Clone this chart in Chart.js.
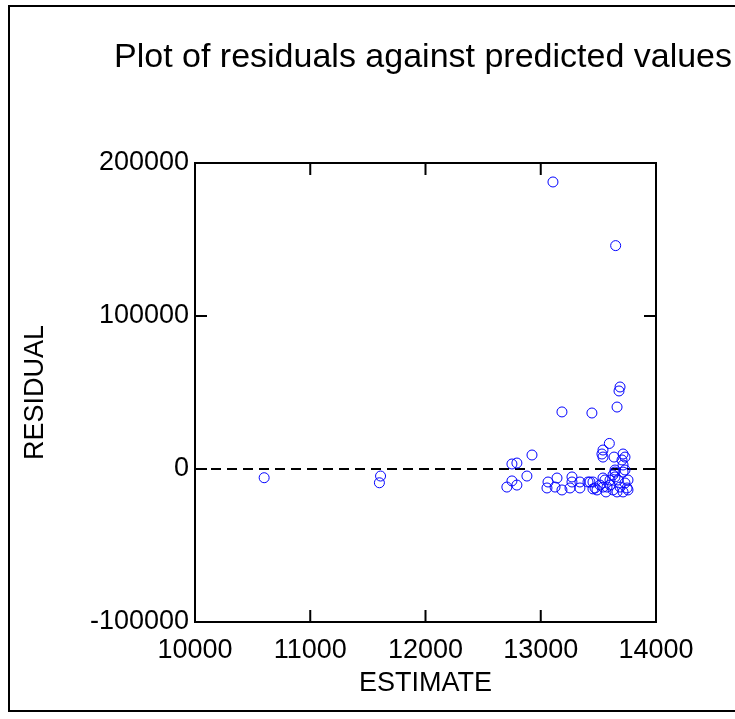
<!DOCTYPE html>
<html>
<head>
<meta charset="utf-8">
<title>Residuals plot</title>
<script src="https://cdn.jsdelivr.net/npm/chart.js@4.4.0/dist/chart.umd.min.js"></script>
<style>
  body { margin: 0; background: #fff; }
  #wrap { position: relative; width: 735px; height: 719px; overflow: hidden; }
  #frame { position: absolute; left: 8px; top: 5px; width: 800px; height: 707px; border: 2px solid #000; box-sizing: border-box; }
  canvas { position: absolute; left: 0; top: 0; }
</style>
</head>
<body>
<div id="wrap">
  <div id="frame"></div>
  <canvas id="residChart" width="735" height="719"></canvas>
</div>
<script>
// predicted values (x) and residuals (y)
const estimate = [
    10600, 11610, 11600,
    13106, 13650,
    13688, 13679, 13662, 13184, 13444,
    13595, 13540, 13531, 13540, 13636, 13714, 13731, 13705,
    13714, 13731, 13644, 13627,
    12924, 12750, 12793, 12880, 12750, 12706, 12793,
    13063, 13141, 13054, 13124, 13184,
    13271, 13271, 13340, 13254, 13340, 13427, 13453,
    13453, 13488, 13557, 13575,
    13410, 13471, 13540, 13540, 13601, 13627, 13670, 13688, 13731, 13749,
    13644, 13714, 13644, 13601, 13662, 13714, 13757, 13757, 13514, 13566
];
const residual = [
    -5700, -4600, -9000,
    187600, 146000,
    53600, 51000, 40500, 37300, 36600,
    16700, 12400, 9800, 7800, 7800, 9800, 7800, 5900,
    2600, -650, -650, -3900,
    9150, 3270, 3900, -4600, -7800, -11800, -10500,
    -8500, -5900, -12400, -11800, -13700,
    -5200, -8500, -8500, -12400, -12400, -8500, -13000,
    -8500, -13700, -7200, -11800,
    -8500, -12400, -5900, -11800, -7200, -13700, -7200, -11800, -9150, -12400,
    -5200, -2000, -2000, -10500, -15000, -15000, -13700, -7200, -10500, -15000
];
const xTicks = [10000, 11000, 12000, 13000, 14000];
const yTicks = [-100000, 0, 100000, 200000];
const titleText = 'Plot of residuals against predicted values';

document.addEventListener('DOMContentLoaded', function() {
    const points = estimate.map(function(x, i) { return { x: x, y: residual[i] }; });
    const zeroLine = [{ x: xTicks[0], y: 0 }, { x: xTicks[xTicks.length - 1], y: 0 }];
    const font = '"Liberation Sans", Arial, sans-serif';

    // frame round the plot, inward ticks on all four sides, and the title
    const framePlugin = {
        id: 'framePlugin',
        afterDraw: function(chart) {
            const ctx = chart.ctx;
            const a = chart.chartArea;
            const xs = chart.scales.x;
            const ys = chart.scales.y;
            const len = 12;
            ctx.save();
            ctx.strokeStyle = '#000';
            ctx.lineWidth = 2;
            ctx.strokeRect(a.left, a.top, a.right - a.left, a.bottom - a.top);
            ctx.beginPath();
            xTicks.forEach(function(v) {
                const px = xs.getPixelForValue(v);
                ctx.moveTo(px, a.bottom); ctx.lineTo(px, a.bottom - len);
                ctx.moveTo(px, a.top); ctx.lineTo(px, a.top + len);
            });
            yTicks.forEach(function(v) {
                const py = ys.getPixelForValue(v);
                ctx.moveTo(a.left, py); ctx.lineTo(a.left + len, py);
                ctx.moveTo(a.right, py); ctx.lineTo(a.right - len, py);
            });
            ctx.stroke();
            ctx.fillStyle = '#000';
            ctx.font = '34px ' + font;
            ctx.textAlign = 'left';
            ctx.textBaseline = 'alphabetic';
            ctx.fillText(titleText, 114, 67);
            ctx.restore();
        }
    };

    const ctxResid = document.getElementById('residChart').getContext('2d');
    new Chart(ctxResid, {
        type: 'scatter',
        data: {
            datasets: [{
                label: 'Residuals',
                data: points,
                pointStyle: 'circle',
                pointRadius: 5,
                pointHoverRadius: 5,
                backgroundColor: 'rgba(0,0,0,0)',
                borderColor: '#0000ff',
                borderWidth: 1
            }, {
                type: 'line',
                label: 'Zero',
                data: zeroLine,
                borderColor: '#000',
                borderWidth: 2,
                borderDash: [10, 6],
                pointRadius: 0,
                fill: false
            }]
        },
        options: {
            responsive: false,
            animation: false,
            layout: { padding: { left: 0, right: 79, top: 163, bottom: 0 } },
            plugins: {
                legend: { display: false },
                tooltip: { enabled: false }
            },
            scales: {
                x: {
                    type: 'linear',
                    min: 10000,
                    max: 14000,
                    afterFit: function(scale) { scale.height = 97; },
                    afterBuildTicks: function(scale) {
                        scale.ticks = xTicks.map(function(v) { return { value: v }; });
                    },
                    grid: { display: false, drawTicks: false },
                    border: { display: false },
                    ticks: {
                        color: '#000',
                        padding: 12,
                        maxRotation: 0,
                        font: { family: font, size: 27 },
                        callback: function(v) { return String(v); }
                    },
                    title: {
                        display: true,
                        text: 'ESTIMATE',
                        color: '#000',
                        font: { family: font, size: 27 },
                        padding: { top: 0, bottom: 19 }
                    }
                },
                y: {
                    type: 'linear',
                    min: -100000,
                    max: 200000,
                    afterFit: function(scale) { scale.width = 195; },
                    afterBuildTicks: function(scale) {
                        scale.ticks = yTicks.map(function(v) { return { value: v }; });
                    },
                    grid: { display: false, drawTicks: false },
                    border: { display: false },
                    ticks: {
                        color: '#000',
                        padding: 6,
                        font: { family: font, size: 27 },
                        callback: function(v) { return String(v); }
                    },
                    title: {
                        display: true,
                        text: 'RESIDUAL',
                        color: '#000',
                        font: { family: font, size: 27 },
                        padding: { top: 19, bottom: 0 }
                    }
                }
            }
        },
        plugins: [framePlugin]
    });
});
</script>
</body>
</html>
